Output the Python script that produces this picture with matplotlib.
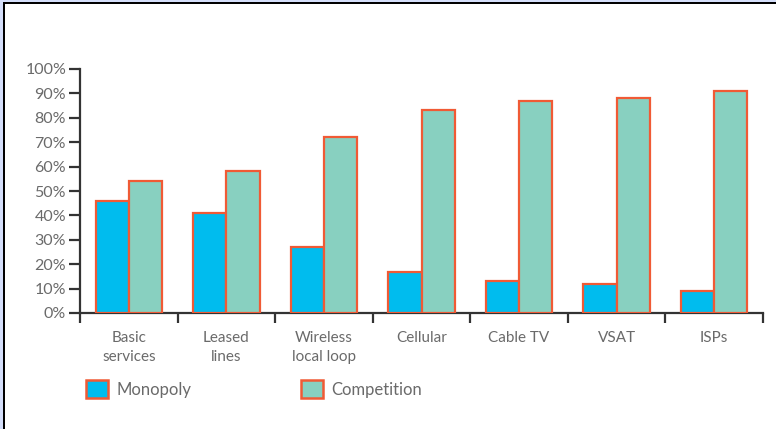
import matplotlib
matplotlib.use("Agg")
import matplotlib.pyplot as plt
import numpy as np
from matplotlib.patches import Patch
from matplotlib.ticker import FixedLocator

categories = ["Basic\nservices", "Leased\nlines", "Wireless\nlocal loop", "Cellular", "Cable TV", "VSAT", "ISPs"]
monopoly = [46, 41, 27, 17, 13, 12, 9]
competition = [54, 58, 72, 83, 87, 88, 91]
yticks = [0, 10, 20, 30, 40, 50, 60, 70, 80, 90, 100]
series_names = ["Monopoly", "Competition"]

plt.rcParams['font.family'] = ['Lato', 'DejaVu Sans']
txt = "#6a6a6a"
edge = "#F05A35"
c_mono = "#00BCEE"
c_comp = "#88D0C0"

fig = plt.figure(figsize=(7.76, 4.29), dpi=100)
ax = fig.add_axes([80/776, 1-313/429, (763-80)/776, (313-69)/429])

x = np.arange(len(categories)) + 0.5
w = 0.34
ax.bar(x - w/2, monopoly, w, color=c_mono, edgecolor=edge, linewidth=1.6, label=series_names[0], zorder=3)
ax.bar(x + w/2, competition, w, color=c_comp, edgecolor=edge, linewidth=1.6, label=series_names[1], zorder=3)

ax.set_xlim(0, len(categories))
ax.set_ylim(0, 100)
ax.set_yticks(yticks)
ax.set_yticklabels([f"{v}%" for v in yticks], fontsize=11.5, color=txt)
ax.set_xticks(x)
ax.set_xticklabels(categories, fontsize=11, color=txt, linespacing=1.45)
ax.tick_params(axis='x', which='major', length=0, pad=13)
ax.xaxis.set_minor_locator(FixedLocator(np.arange(len(categories) + 1)))
ax.tick_params(axis='x', which='minor', length=7, width=1.6, color="#333333")
ax.tick_params(axis='y', length=8, width=1.6, color="#333333", pad=2)
for s in ['top', 'right']:
    ax.spines[s].set_visible(False)
for s in ['left', 'bottom']:
    ax.spines[s].set_color("#333333")
    ax.spines[s].set_linewidth(1.6)

handles = [Patch(facecolor=c_mono, edgecolor=edge, linewidth=1.8),
           Patch(facecolor=c_comp, edgecolor=edge, linewidth=1.8)]
fig.legend(handles, series_names, loc='upper left', bbox_to_anchor=(86/776, 1-380/429),
           ncol=2, frameon=False, fontsize=12, handlelength=1.3, handleheight=1.3,
           handletextpad=0.5, columnspacing=6.6, labelcolor=txt, borderaxespad=0, borderpad=0)

# frame decorations
fig.add_artist(plt.Rectangle((0, 0), 3/776, 1, transform=fig.transFigure, color="#D4DEFA", lw=0))
fig.add_artist(plt.Rectangle((0, 1-2/429), 1, 2/429, transform=fig.transFigure, color="#D4DEFA", lw=0))
fig.add_artist(plt.Rectangle((3/776, 0), 2/776, 1-2/429, transform=fig.transFigure, color="black", lw=0))
fig.add_artist(plt.Rectangle((3/776, 1-4/429), 1, 2/429, transform=fig.transFigure, color="black", lw=0))

fig.savefig("out.png", dpi=100)
